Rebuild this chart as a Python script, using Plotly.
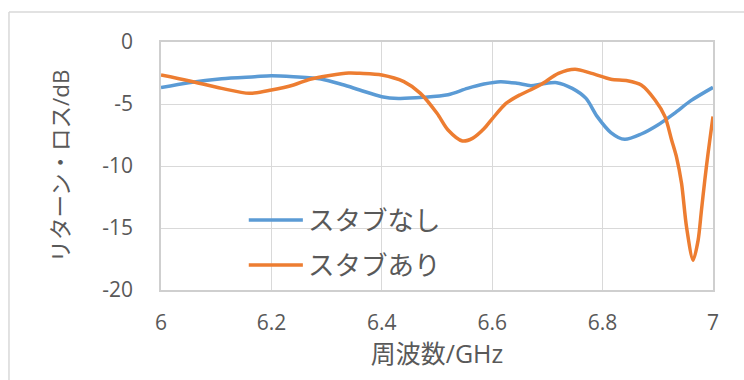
import plotly.graph_objects as go

# Return loss vs frequency, without and with stub
series_names = ["スタブなし", "スタブあり"]

freq_nostub = [6.00, 6.05, 6.11, 6.17, 6.20, 6.24, 6.29, 6.33, 6.36, 6.40,
               6.43, 6.475, 6.52, 6.555, 6.585, 6.615, 6.645, 6.67, 6.69, 6.717,
               6.745, 6.77, 6.79, 6.815, 6.84, 6.87, 6.90, 6.93, 6.96, 7.00]
rl_nostub = [-3.68, -3.28, -2.96, -2.80, -2.72, -2.80, -2.98, -3.45, -3.87, -4.41,
             -4.55, -4.46, -4.25, -3.74, -3.39, -3.20, -3.33, -3.52, -3.39, -3.28,
             -3.74, -4.55, -6.00, -7.30, -7.85, -7.42, -6.69, -5.75, -4.73, -3.66]

freq_stub = [6.00, 6.05, 6.11, 6.16, 6.20, 6.24, 6.27, 6.34, 6.36, 6.40,
             6.44, 6.47, 6.50, 6.52, 6.546, 6.565, 6.585, 6.60, 6.625, 6.65,
             6.67, 6.69, 6.72, 6.75, 6.78, 6.815, 6.845, 6.87, 6.895, 6.913,
             6.925, 6.934, 6.943, 6.952, 6.964, 6.973, 6.979, 6.985, 6.991, 6.997,
             7.00]
rl_stub = [-2.66, -3.12, -3.74, -4.14, -3.87, -3.47, -3.00, -2.50, -2.53, -2.66,
           -3.20, -4.14, -5.75, -7.10, -7.98, -7.75, -7.00, -6.20, -4.95, -4.27,
           -3.85, -3.39, -2.53, -2.20, -2.53, -3.00, -3.12, -3.47, -4.68, -6.02,
           -7.90, -9.30, -11.40, -14.90, -17.60, -16.00, -13.60, -11.20, -9.00, -7.00,
           -6.00]

x_ticks = [6, 6.2, 6.4, 6.6, 6.8, 7]
x_ticklabels = ["6", "6.2", "6.4", "6.6", "6.8", "7"]
y_ticks = [0, -5, -10, -15, -20]
y_ticklabels = ["0", "-5", "-10", "-15", "-20"]

colors = ["#5B9BD5", "#ED7D31"]
text_color = "#595959"
grid_color = "#D9D9D9"
font_family = "Open Sans, Noto Sans CJK JP, sans-serif"

fig = go.Figure()
for name, xs, ys, c in [(series_names[0], freq_nostub, rl_nostub, colors[0]),
                        (series_names[1], freq_stub, rl_stub, colors[1])]:
    fig.add_trace(go.Scatter(
        x=xs, y=ys, name=name, mode="lines",
        line=dict(color=c, width=3.5, shape="spline", smoothing=0.8),
        showlegend=False,
    ))

# Legend drawn inside the plot area: sample line + label for each series
legend_rows = [0.282, 0.101]
for name, c, yy in zip(series_names, colors, legend_rows):
    fig.add_shape(type="line", xref="paper", yref="paper",
                  x0=0.159, x1=0.257, y0=yy, y1=yy,
                  line=dict(color=c, width=3.5))
    fig.add_annotation(xref="paper", yref="paper", x=0.262, y=yy,
                       text=name, showarrow=False, xanchor="left", yanchor="middle",
                       font=dict(size=26.5, color=text_color, family=font_family))

# Outer chart frame (top and left edges)
fig.add_shape(type="line", xref="paper", yref="paper",
              x0=-0.2754, x1=1.1, y0=1.121, y1=1.121,
              line=dict(color=grid_color, width=1.5))
fig.add_shape(type="line", xref="paper", yref="paper",
              x0=-0.2754, x1=-0.2754, y0=1.121, y1=-0.5,
              line=dict(color=grid_color, width=1.5))

fig.update_layout(
    width=744, height=380,
    margin=dict(l=161, r=31, t=42, b=90),
    paper_bgcolor="white", plot_bgcolor="white",
    font=dict(family=font_family, color=text_color, size=21),
)
fig.update_xaxes(
    range=[6, 7], tickvals=x_ticks, ticktext=x_ticklabels,
    showgrid=True, gridcolor=grid_color, gridwidth=1.3,
    showline=True, linecolor="#CFCFCF", linewidth=1.5, mirror=True,
    zeroline=False, ticks="", ticklabelstandoff=13,
    tickfont=dict(size=21, color=text_color),
    title=dict(text="周波数/GHz", font=dict(size=25, color=text_color), standoff=2),
    automargin=False,
)
fig.update_yaxes(
    range=[-20, 0], tickvals=y_ticks, ticktext=y_ticklabels,
    showgrid=True, gridcolor=grid_color, gridwidth=1.3,
    showline=True, linecolor="#CFCFCF", linewidth=1.5, mirror=True,
    zeroline=False, ticks="", ticklabelstandoff=22,
    tickfont=dict(size=21, color=text_color),
    title=dict(text="リターン・ロス/dB", font=dict(size=22.5, color=text_color), standoff=26),
    automargin=False,
)

fig.write_html("out.html")
